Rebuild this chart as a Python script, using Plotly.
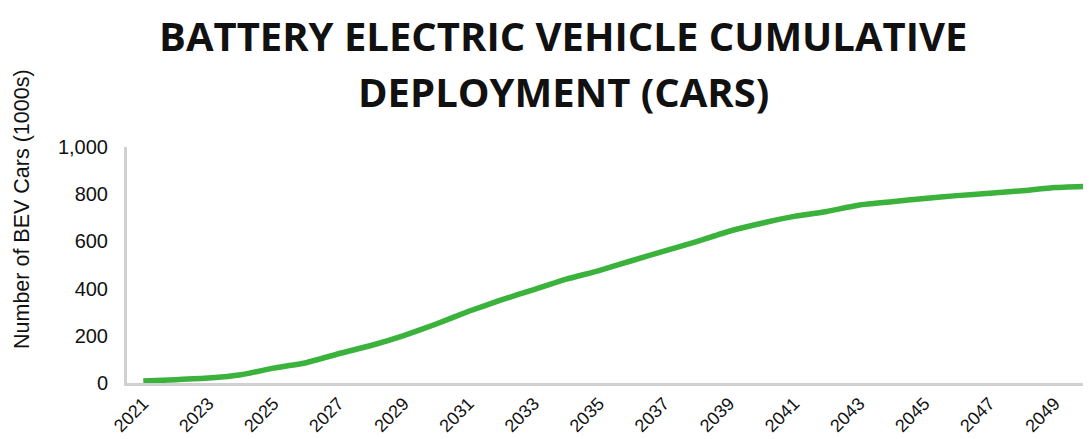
import plotly.graph_objects as go

years = [str(y) for y in range(2021, 2051)]
bev_cars = [8, 14, 21, 35, 63, 86, 124, 159, 201, 250, 304, 352, 396, 440, 476,
            518, 559, 599, 643, 677, 706, 727, 754, 768, 782, 794, 804, 815, 828, 833]
tick_years = [str(y) for y in range(2021, 2051, 2)]
title_lines = ["BATTERY ELECTRIC VEHICLE CUMULATIVE", "DEPLOYMENT (CARS)"]

# page body has an 8px default margin; work in window pixels and offset
OFF = 8
WIN_W, WIN_H = 1091, 439
W, H = WIN_W - OFF, WIN_H - OFF
plot_left, plot_top, plot_bottom = 127, 147, 383
ml = plot_left - OFF
mt = plot_top - OFF
mb = H - (plot_bottom - OFF)
mr = 0
pw = W - ml - mr
ph = H - mt - mb


def py(ypix):
    return (plot_bottom - ypix) / ph


def px(xpix):
    return (xpix - plot_left) / pw


fig = go.Figure()
fig.add_trace(go.Scatter(
    x=years, y=bev_cars, mode="lines",
    line=dict(color="#3AB23C", width=5.5, shape="spline", smoothing=0.4),
    hoverinfo="skip", showlegend=False,
))

annotations = [
    dict(text="<b>%s</b>" % title_lines[0], xref="paper", yref="paper",
         x=px(563), y=py(36), xanchor="center", yanchor="middle", showarrow=False,
         font=dict(family="Open Sans", size=40, color="#111111")),
    dict(text="<b>%s</b>" % title_lines[1], xref="paper", yref="paper",
         x=px(563), y=py(91), xanchor="center", yanchor="middle", showarrow=False,
         font=dict(family="Open Sans", size=40, color="#111111")),
    dict(text="Number of BEV Cars (1000s)", textangle=-90,
         xref="paper", yref="paper",
         x=px(22), y=py(209),
         xanchor="center", yanchor="middle", showarrow=False,
         font=dict(family="Liberation Sans, Arial", size=21.5, color="#111111")),
]

fig.update_layout(
    width=W, height=H,
    margin=dict(l=ml, r=mr, t=mt, b=mb, pad=0, autoexpand=False),
    paper_bgcolor="white", plot_bgcolor="white",
    xaxis=dict(
        type="category", categoryorder="array", categoryarray=years,
        range=[-0.5, -0.5 + pw / 32.55], automargin=False,
        tickmode="array", tickvals=tick_years, ticktext=tick_years,
        tickangle=-45, ticks="", showgrid=False, zeroline=False,
        showline=True, linecolor="#D0D0D0", linewidth=3,
        tickfont=dict(family="Liberation Sans, Arial", size=18, color="#111111"),
    ),
    yaxis=dict(
        range=[0, 1000], tickvals=[0, 200, 400, 600, 800, 1000],
        tickformat=",", ticks="", showgrid=False, zeroline=False, automargin=False,
        showline=True, linecolor="#D0D0D0", linewidth=3,
        ticklabelstandoff=12,
        tickfont=dict(family="Liberation Sans, Arial", size=20, color="#111111"),
    ),
    annotations=annotations,
)

fig.write_html("out.html")
